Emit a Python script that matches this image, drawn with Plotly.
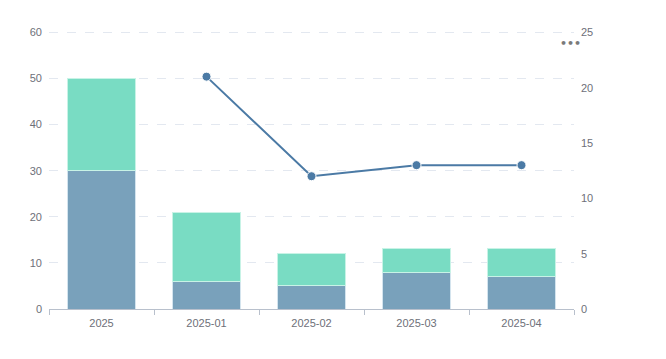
import plotly.graph_objects as go

categories = ["2025", "2025-01", "2025-02", "2025-03", "2025-04"]
bar_bottom = [30, 6, 5, 8, 7]
bar_top = [20, 15, 7, 5.2, 6.2]
line_values = [None, 21, 12, 13, 13]
left_ticks = [0, 10, 20, 30, 40, 50, 60]
right_ticks = [0, 5, 10, 15, 20, 25]

fig = go.Figure()
fig.add_trace(go.Bar(
    x=categories, y=bar_bottom, name="A",
    marker=dict(color="#79a1bb", line=dict(color="#d4e4ee", width=1)),
))
fig.add_trace(go.Bar(
    x=categories, y=bar_top, name="B",
    marker=dict(color="#79dcc3", line=dict(color="#c8f3e6", width=1)),
))
fig.add_trace(go.Scatter(
    x=categories, y=line_values, name="C", yaxis="y2", mode="lines+markers",
    line=dict(color="#4b7aa5", width=2),
    marker=dict(color="#4b7aa5", size=9, line=dict(color="white", width=1)),
    connectgaps=False,
))

tick_font = dict(family="Liberation Sans, Arial, sans-serif", size=11, color="#6e7079")
fig.update_layout(
    width=666, height=359,
    margin=dict(l=41, r=100, t=23, b=58),
    paper_bgcolor="white", plot_bgcolor="white",
    barmode="stack", bargap=0.35,
    showlegend=False,
    hovermode=False,
    xaxis=dict(
        type="category", tickson="boundaries", ticks="outside", ticklen=5,
        tickcolor="#b8c0cc", showline=True, linecolor="#b8c0cc", linewidth=1,
        showgrid=False, tickfont=tick_font, zeroline=False, ticklabelstandoff=4,
    ),
    yaxis=dict(
        range=[0, 60.3], tickvals=left_ticks, showgrid=True, gridcolor="#e3e8f0",
        griddash="dash", gridwidth=1, zeroline=False, showline=False,
        tickfont=tick_font, ticks="", ticklabelstandoff=6,
    ),
    yaxis2=dict(
        range=[0, 25.125], tickvals=right_ticks, overlaying="y", side="right",
        showgrid=False, zeroline=False, showline=False, tickfont=tick_font,
        ticks="", ticklabelstandoff=6,
    ),
    annotations=[dict(
        text="<b>•••</b>", xref="paper", yref="paper", x=1.0, y=1.0,
        xanchor="right", yanchor="top", showarrow=False,
        font=dict(family="DejaVu Sans, sans-serif", size=11, color="#7a7a7a"),
        xshift=9, yshift=-4,
    )],
)

fig.write_html("out.html")
